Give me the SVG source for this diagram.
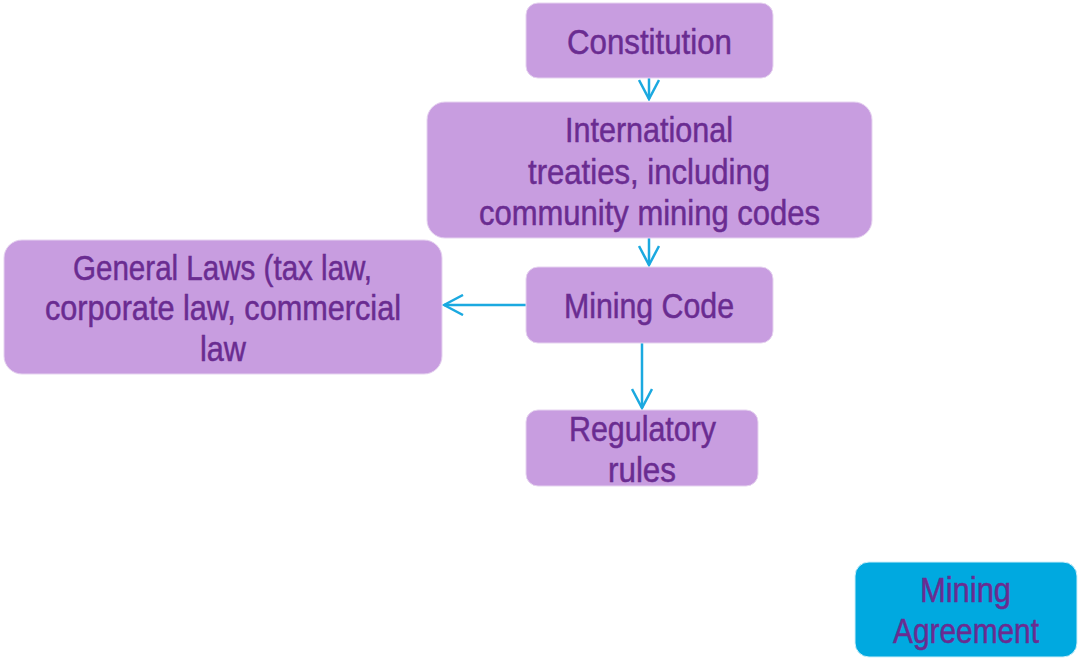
<svg xmlns="http://www.w3.org/2000/svg" width="1078" height="659" viewBox="0 0 1078 659">
<style>
.box{fill:#C89DE0;stroke:#E6D3F0;stroke-width:1}
.blue{fill:#00A9E0;stroke:#CDEFFA;stroke-width:1}
.t{font-family:"Liberation Sans",Arial,sans-serif;font-size:35px;fill:#6A2C91;stroke:#6A2C91;stroke-width:0.5;text-anchor:middle}
.c{stroke:#1BA9E0;stroke-width:2.5;fill:none}
</style>
<defs>
<marker id="arr" viewBox="0 0 22 22" refX="20" refY="11" markerWidth="22" markerHeight="22" markerUnits="userSpaceOnUse" orient="auto">
<path d="M1,1 L20,11 L1,21" fill="none" stroke="#1BA9E0" stroke-width="2.5"/>
</marker>
</defs>
<rect width="1078" height="659" fill="#fff"/>
<g id="connectors">
<line class="c" x1="649" y1="78" x2="649" y2="99" marker-end="url(#arr)"/>
<line class="c" x1="649" y1="238" x2="649" y2="265" marker-end="url(#arr)"/>
<line class="c" x1="526" y1="305" x2="444" y2="305" marker-end="url(#arr)"/>
<line class="c" x1="642" y1="343" x2="642" y2="408" marker-end="url(#arr)"/>
</g>
<g id="constitution">
<rect class="box" x="526" y="3" width="247" height="75" rx="12"/>
<text class="t" x="649.5" y="54" textLength="165" lengthAdjust="spacingAndGlyphs">Constitution</text>
</g>
<g id="international">
<rect class="box" x="427" y="102" width="445" height="136" rx="18"/>
<text class="t" x="649" y="142" textLength="168" lengthAdjust="spacingAndGlyphs">International</text>
<text class="t" x="649" y="184" textLength="242" lengthAdjust="spacingAndGlyphs">treaties, including</text>
<text class="t" x="649.5" y="225" textLength="341" lengthAdjust="spacingAndGlyphs">community mining codes</text>
</g>
<g id="general-laws">
<rect class="box" x="4" y="240" width="438" height="134" rx="18"/>
<text class="t" x="222.5" y="280" textLength="299" lengthAdjust="spacingAndGlyphs">General Laws (tax law,</text>
<text class="t" x="223" y="320" textLength="356" lengthAdjust="spacingAndGlyphs">corporate law, commercial</text>
<text class="t" x="223" y="361" textLength="46" lengthAdjust="spacingAndGlyphs">law</text>
</g>
<g id="mining-code">
<rect class="box" x="526" y="267" width="247" height="76" rx="12"/>
<text class="t" x="649" y="318" textLength="170" lengthAdjust="spacingAndGlyphs">Mining Code</text>
</g>
<g id="regulatory">
<rect class="box" x="526" y="410" width="232" height="76" rx="12"/>
<text class="t" x="642.5" y="441" textLength="147" lengthAdjust="spacingAndGlyphs">Regulatory</text>
<text class="t" x="642" y="482" textLength="68" lengthAdjust="spacingAndGlyphs">rules</text>
</g>
<g id="mining-agreement">
<rect class="blue" x="855" y="562" width="222" height="95" rx="14"/>
<text class="t" x="965.5" y="602" textLength="91" lengthAdjust="spacingAndGlyphs">Mining</text>
<text class="t" x="966" y="643" textLength="146" lengthAdjust="spacingAndGlyphs">Agreement</text>
</g>
</svg>
